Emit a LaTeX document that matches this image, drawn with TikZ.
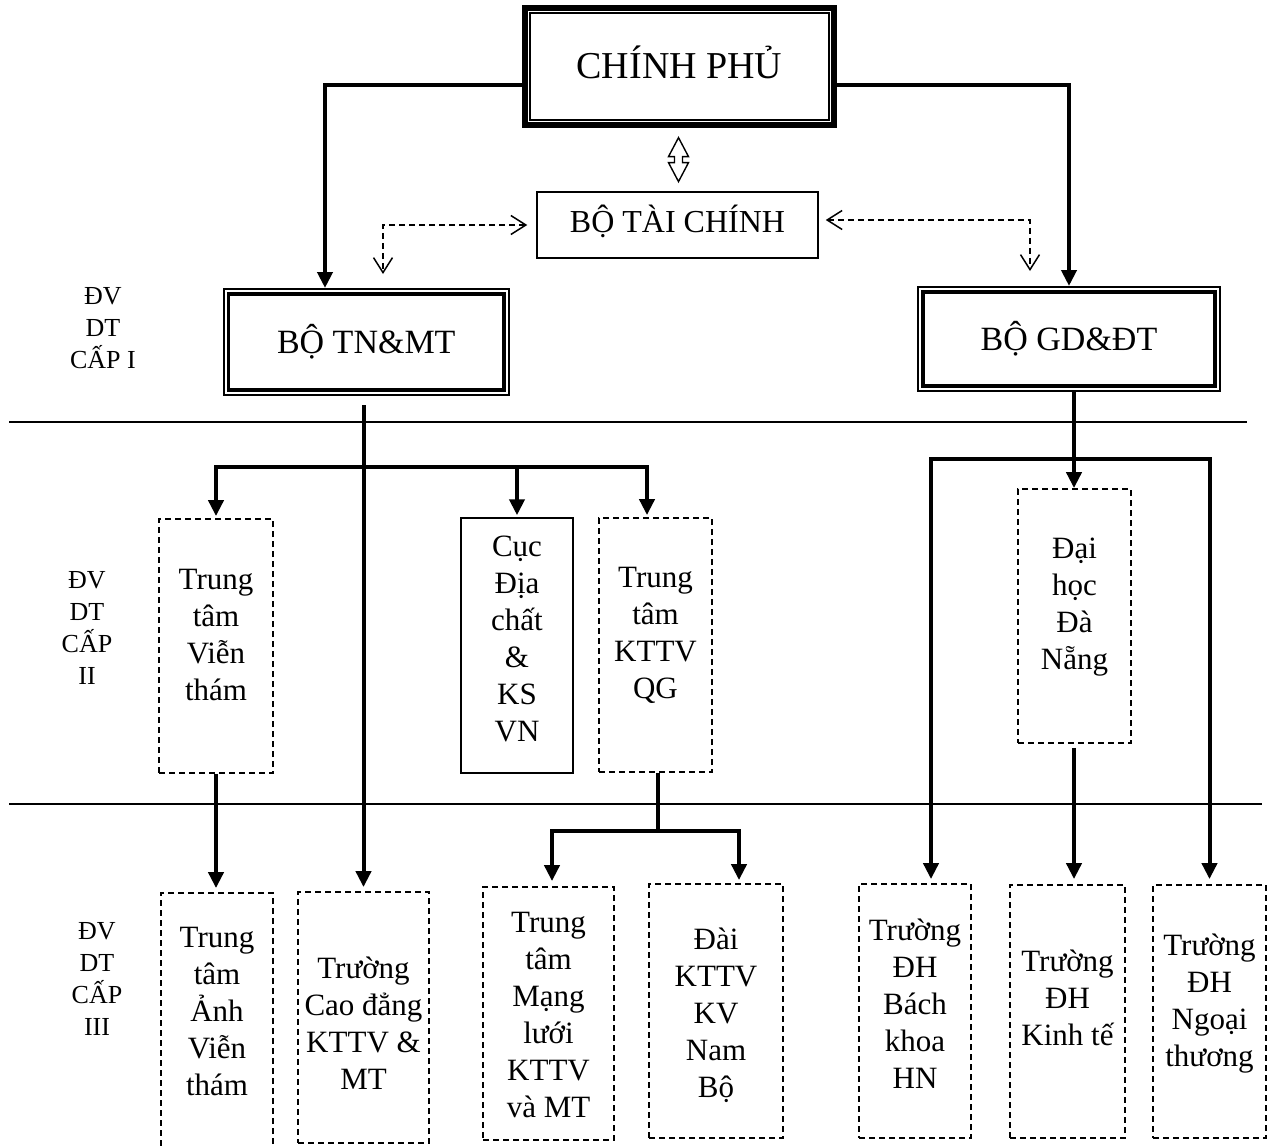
\documentclass[tikz,border=0pt]{standalone}
\usepackage{fontspec}
\setmainfont{Liberation Serif}
\usetikzlibrary{arrows.meta}
\begin{document}
\begin{tikzpicture}[x=1pt,y=-1pt,
  conn/.style={line width=4pt,-{Triangle[length=16pt,width=15pt]}},
  bar/.style={line width=4pt},
  dconn/.style={line width=1.5pt,dash pattern=on 6pt off 4pt,
    {Straight Barb[length=15pt,width=19pt]}-{Straight Barb[length=15pt,width=19pt]}},
  dbox/.style={draw,line width=1.8pt,dash pattern=on 6pt off 4pt,inner sep=0pt},
  sbox/.style={draw,line width=1.5pt,inner sep=0pt},
  boxtxt/.style={font=\fontsize{31}{37}\selectfont,align=center,inner sep=0pt},
  lvltxt/.style={font=\fontsize{26}{32}\selectfont,align=center,inner sep=0pt},
  sepline/.style={line width=1.8pt}]
\fill[white] (0,0) rectangle (1278,1146);
\useasboundingbox (0,0) rectangle (1278,1146);

% level separators
\draw[sepline] (9,422) -- (1247,422);
\draw[sepline] (9,804) -- (1262,804);

% level labels
\node[lvltxt] (lv1) at (103,329.6) {\strut ĐV\\DT\\CẤP I\strut};
\node[lvltxt] (lv2) at (87,630.1) {\strut ĐV\\DT\\CẤP\\II\strut};
\node[lvltxt] (lv3) at (97,981.1) {\strut ĐV\\DT\\CẤP\\III\strut};

% top nodes
\node[draw,line width=6pt,inner sep=0pt,minimum width=309pt,minimum height=117pt,
  font=\fontsize{38}{44}\selectfont,text height=25pt,text depth=2pt] (cp) at (679.5,66.5) {CHÍNH PHỦ};
\draw[line width=1.5pt] ([shift={(8,8)}]cp.north west) rectangle ([shift={(-8,-8)}]cp.south east);

\node[sbox,minimum width=281pt,minimum height=66pt,
  font=\fontsize{32}{38}\selectfont,text height=22pt,text depth=8pt] (btc) at (677.5,225) {BỘ TÀI CHÍNH};

\node[draw,line width=2pt,inner sep=0pt,minimum width=285.5pt,minimum height=106pt,
  font=\fontsize{34}{40}\selectfont,text height=24pt,text depth=2pt] (tn) at (366.25,342) {BỘ TN\&MT};
\draw[line width=3.5pt] ([shift={(6,6)}]tn.north west) rectangle ([shift={(-6,-6)}]tn.south east);

\node[draw,line width=2pt,inner sep=0pt,minimum width=302pt,minimum height=104pt,
  font=\fontsize{34}{40}\selectfont,text height=24pt,text depth=2pt] (gd) at (1069,339) {BỘ GD\&ĐT};
\draw[line width=3.5pt] ([shift={(6,6)}]gd.north west) rectangle ([shift={(-6,-6)}]gd.south east);

% level II boxes
\node[dbox,minimum width=114pt,minimum height=254pt] (vt) at (216,646) {};
\node[sbox,minimum width=112pt,minimum height=255pt] (cuc) at (517,645.5) {};
\node[dbox,minimum width=113pt,minimum height=254pt] (qg) at (655.5,645) {};
\node[dbox,minimum width=113pt,minimum height=254pt] (dn) at (1074.5,616) {};
\node[boxtxt] (t-vt) at (216,637.6) {\strut Trung\\tâm\\Viễn\\thám\strut};
\node[boxtxt] (t-cuc) at (517,642) {\strut Cục\\Địa\\chất\\\&\\KS\\VN\strut};
\node[boxtxt] (t-qg) at (655.5,635.6) {\strut Trung\\tâm\\KTTV\\QG\strut};
\node[boxtxt] (t-dn) at (1074.5,607) {\strut Đại\\học\\Đà\\Nẵng\strut};

% level III boxes
\node[dbox,minimum width=112pt,minimum height=259pt] (anh) at (217,1022.5) {};
\node[dbox,minimum width=131pt,minimum height=251pt] (cd) at (363.5,1017.5) {};
\node[dbox,minimum width=131pt,minimum height=253pt] (ml) at (548.5,1013.5) {};
\node[dbox,minimum width=134pt,minimum height=254pt] (dai) at (716,1011) {};
\node[dbox,minimum width=112pt,minimum height=254pt] (bk) at (915,1011) {};
\node[dbox,minimum width=115pt,minimum height=253pt] (kt) at (1067.5,1011.5) {};
\node[dbox,minimum width=113pt,minimum height=253pt] (nt) at (1209.5,1011.5) {};
\node[boxtxt] (t-anh) at (217,1013.6) {\strut Trung\\tâm\\Ảnh\\Viễn\\thám\strut};
\node[boxtxt] (t-cd) at (363.5,1026.6) {\strut Trường\\Cao đẳng\\KTTV \&\\MT\strut};
\node[boxtxt] (t-ml) at (548.5,1018) {\strut Trung\\tâm\\Mạng\\lưới\\KTTV\\và MT\strut};
\node[boxtxt] (t-dai) at (716,1016) {\strut Đài\\KTTV\\KV\\Nam\\Bộ\strut};
\node[boxtxt] (t-bk) at (915,1006.6) {\strut Trường\\ĐH\\Bách\\khoa\\HN\strut};
\node[boxtxt] (t-kt) at (1067.5,1001) {\strut Trường\\ĐH\\Kinh tế\strut};
\node[boxtxt] (t-nt) at (1209.5,1003.6) {\strut Trường\\ĐH\\Ngoại\\thương\strut};

% helper coordinates
\coordinate (xa) at (325,0);
\coordinate (xb) at (383,0);
\coordinate (xc) at (1030,0);
\coordinate (xq) at (647,0);
\coordinate (xm) at (552,0);
\coordinate (xd) at (739,0);
\coordinate (xk) at (931,0);
\coordinate (xt) at (1074,0);
\coordinate (j1) at (363,467);
\coordinate (j2) at (658,831);
\coordinate (j3) at (1074,459);

% double arrow CP <-> BTC
\path (cp.south) -- (btc.north) coordinate[pos=0.5] (dm);
\draw[line width=1.4pt,line join=miter,shift={(dm)}]
  (0,-22) -- (10,-3) -- (4,-3) -- (4,3) -- (10,3) -- (0,22) -- (-10,3) -- (-4,3) -- (-4,-3) -- (-10,-3) -- cycle;

% connectors
\draw[conn] ([yshift=-18.5pt]cp.west) -| (tn.north -| xa);
\draw[conn] ([yshift=-18.5pt]cp.east) -| (gd.north);
\draw[dconn,shorten <=9pt,shorten >=14pt] (btc.west) -| (tn.north -| xb);
\draw[dconn,shorten <=7pt,shorten >=15pt] ([yshift=5pt]btc.east) -| (gd.north -| xc);

\draw[conn,shorten <=9pt,shorten >=4pt] (tn.south -| cd.north) -- (cd.north);
\draw[conn,shorten >=2pt] (j1) -| (vt.north);
\draw[conn,shorten >=2pt] (j1) -| (cuc.north);
\draw[conn,shorten >=2pt] (j1) -| (qg.north -| xq);
\draw[conn,shorten >=4pt] (vt.south) -- (vt.south |- anh.north);
\draw[bar] (qg.south -| j2) -- (j2);
\draw[conn,shorten >=5pt] (j2) -| (ml.north -| xm);
\draw[conn,shorten >=3pt] (j2) -| (dai.north -| xd);

\draw[conn] (gd.south -| xt) -- (dn.north -| xt);
\draw[conn,shorten >=4pt] (j3) -| (bk.north -| xk);
\draw[conn,shorten >=5pt] (j3) -| (nt.north);
\draw[conn,shorten <=4pt,shorten >=5pt] (dn.south -| xt) -- (kt.north -| xt);
\end{tikzpicture}
\end{document}
